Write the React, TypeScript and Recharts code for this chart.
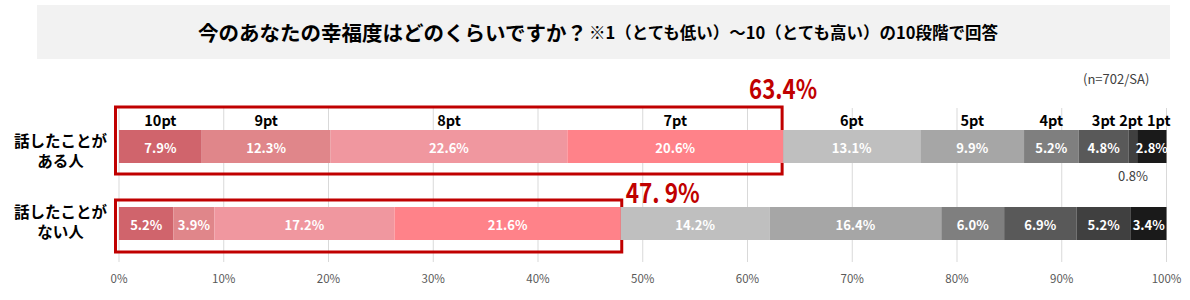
import React from "react";
import { BarChart, Bar, XAxis, YAxis, CartesianGrid, LabelList, ReferenceArea } from "recharts";

const categories = ["話したことがある人", "話したことがない人"];
const categoryLines = [
  ["話したことが", "ある人"],
  ["話したことが", "ない人"],
];
const pointKeys = ["10pt", "9pt", "8pt", "7pt", "6pt", "5pt", "4pt", "3pt", "2pt", "1pt"];
const talkedValues = [7.9, 12.3, 22.6, 20.6, 13.1, 9.9, 5.2, 4.8, 0.8, 2.8];
const notTalkedValues = [5.2, 3.9, 17.2, 21.6, 14.2, 16.4, 6.0, 6.9, 5.2, 3.4];
const topBoxTotals = [63.4, 47.9];
const topBoxLabels = ["63.4%", "47. 9%"];
const xTicks = [0, 10, 20, 30, 40, 50, 60, 70, 80, 90, 100];
const titleMain = "今のあなたの幸福度はどのくらいですか？";
const titleSub = "※1（とても低い）～10（とても高い）の10段階で回答";
const sampleNote = "(n=702/SA)";

const seriesColors = [
  "#d0646c", "#e0868a", "#f0979f", "#ff8289",
  "#bfbfbf", "#a6a6a6", "#7f7f7f", "#595959", "#404040", "#1a1a1a",
];
const ptLabelNudge: Record<string, number> = { "2pt": -2, "1pt": 7 };
const boxInsets = [
  { top: -1, bottom: 11, right: -1 },
  { top: 15, bottom: 10, right: 1 },
];
const bigLabelWidths = [68, 74];

const JP = "'Noto Sans CJK JP', 'Noto Sans', sans-serif";

const valueSets = [talkedValues, notTalkedValues];
const data = categories.map((c, i) => {
  const row: any = { category: c };
  pointKeys.forEach((k, j) => {
    row[k] = valueSets[i][j];
  });
  return row;
});

const getBox = (props: any) => {
  const vb = props.viewBox || props;
  return { x: Number(vb.x), y: Number(vb.y), width: Number(vb.width), height: Number(vb.height) };
};

const makeValueLabel = () => (props: any) => {
  const { x, y, width, height } = getBox(props);
  const v = Number(props.value);
  if (!isFinite(x)) return null;
  if (v < 1) {
    return (
      <text x={x + width / 2} y={y + height + 12} textAnchor="middle" dominantBaseline="central"
        fill="#404040" fontSize={13} fontFamily={JP}>
        {`${v.toFixed(1)}%`}
      </text>
    );
  }
  return (
    <text x={x + width / 2} y={y + height / 2 + 1} textAnchor="middle" dominantBaseline="central"
      fill="#ffffff" fontSize={13} fontWeight={700} fontFamily={JP}>
      {`${v.toFixed(1)}%`}
    </text>
  );
};

const makePtLabel = (key: string) => (props: any) => {
  if (props.index !== 0) return null;
  const { x, y, width } = getBox(props);
  if (!isFinite(x)) return null;
  return (
    <text x={x + width / 2 + (ptLabelNudge[key] || 0)} y={y - 4} textAnchor="middle"
      fill="#000000" fontSize={14.5} fontWeight={700} fontFamily={JP}>
      {key}
    </text>
  );
};

const CategoryTick = (props: any) => {
  const { y, payload } = props;
  const idx = categories.indexOf(payload.value);
  const lines = categoryLines[idx] || [payload.value];
  const shift = idx === 0 ? 3 : -3;
  return (
    <g>
      {lines.map((ln: string, i: number) => (
        <text key={i} x={60.5} y={y + shift + (i === 0 ? -10 : 10)} textAnchor="middle" dominantBaseline="central"
          fill="#000000" fontSize={15.5} fontWeight={700} fontFamily={JP}>
          {ln}
        </text>
      ))}
    </g>
  );
};

const makeBoxShape = (i: number) => (props: any) => {
  const { x, y, width, height } = props;
  const ins = boxInsets[i];
  const left = x - 3.5;
  const right = x + width + ins.right;
  const top = y + ins.top;
  const bottom = y + height - ins.bottom;
  return (
    <g>
      <rect x={left} y={top} width={right - left} height={bottom - top}
        fill="none" stroke="#c00000" strokeWidth={3} />
      {i === 0 ? (
        <text x={right + 1} y={top - 8} textAnchor="middle" fill="#c00000" fontSize={27}
          fontWeight={700} fontFamily={JP} textLength={bigLabelWidths[i]} lengthAdjust="spacingAndGlyphs">
          {topBoxLabels[i]}
        </text>
      ) : (
        <text x={right + 4} y={top + 2.5} textAnchor="start" fill="#c00000" fontSize={27}
          fontWeight={700} fontFamily={JP} textLength={bigLabelWidths[i]} lengthAdjust="spacingAndGlyphs">
          {topBoxLabels[i]}
        </text>
      )}
    </g>
  );
};

export default function App() {
  return (
    <div style={{ position: "absolute", left: 0, top: 0, width: 1190, height: 300, background: "#ffffff", overflow: "hidden" }}>
      <div style={{
        position: "absolute", left: 37, top: 5, width: 1133, height: 54, background: "#f2f2f2",
      }}>
        <div style={{
          position: "absolute", left: 161, top: 0, height: 53, display: "flex", alignItems: "center",
          whiteSpace: "nowrap", fontFamily: JP, fontWeight: 700, color: "#000",
        }}>
          <span style={{ fontSize: 20.5 }}>{titleMain}</span>
          <span style={{ fontSize: 16.5, marginLeft: 2 }}>{titleSub}</span>
        </div>
      </div>
      <div style={{
        position: "absolute", left: 1083, top: 69, fontSize: 13, fontFamily: JP, color: "#404040", whiteSpace: "nowrap",
      }}>
        {sampleNote}
      </div>
      <div style={{ position: "absolute", left: 0, top: 0 }}>
        <BarChart width={1190} height={300} data={data} layout="vertical"
          margin={{ top: 108, right: 23.5, bottom: 8, left: 0 }} barCategoryGap={0}>
          <CartesianGrid horizontal={false} vertical={true} stroke="#d9d9d9" strokeWidth={1} />
          <XAxis type="number" domain={[0, 100]} ticks={xTicks} tickFormatter={(v: number) => `${v}%`}
            axisLine={false} tickLine={false} tickSize={0} tickMargin={13} height={30}
            tick={{ fill: "#595959", fontSize: 11.5, fontFamily: JP }} interval={0} />
          <YAxis type="category" dataKey="category" width={119} axisLine={false} tickLine={false}
            tick={<CategoryTick />} interval={0} />
          {pointKeys.map((k, j) => (
            <Bar key={k} dataKey={k} stackId="a" fill={seriesColors[j]} barSize={33} isAnimationActive={false}>
              <LabelList dataKey={k} content={makeValueLabel()} />
              <LabelList dataKey={k} content={makePtLabel(k)} />
            </Bar>
          ))}
          {categories.map((c, i) => (
            <ReferenceArea key={c} x1={0} x2={topBoxTotals[i]} y1={c} y2={c}
              ifOverflow="visible" shape={makeBoxShape(i)} />
          ))}
        </BarChart>
      </div>
    </div>
  );
}
